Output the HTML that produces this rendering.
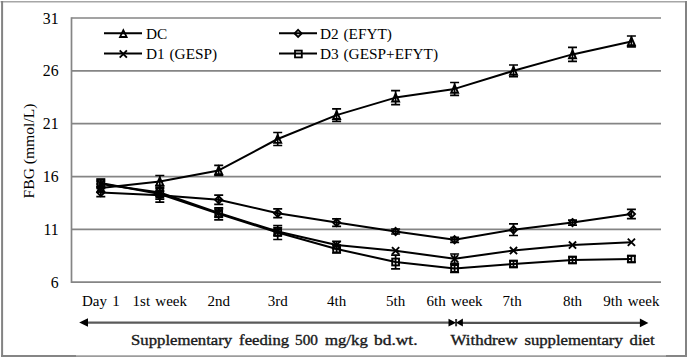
<!DOCTYPE html>
<html><head><meta charset="utf-8"><style>
html,body{margin:0;padding:0;background:#fff;}
body{width:688px;height:358px;overflow:hidden;}
svg{display:block;}
text{font-family:"Liberation Serif",serif;font-size:15px;fill:#000;}
.xl{word-spacing:1.5px;}
.lg{font-size:15.3px;word-spacing:1px;}
.yt{font-size:15.6px;}
.yl{font-size:15.8px;}
.ann{font-family:"Liberation Serif",serif;font-weight:normal;font-size:14px;fill:#1a1a1a;stroke:#1a1a1a;stroke-width:0.35px;}
</style></head><body>
<svg width="688" height="358" viewBox="0 0 688 358">
<rect x="0" y="0" width="688" height="358" fill="#fff"/>
<path d="M0.5 1.8H687" stroke="#a6a6a6" stroke-width="1.5" fill="none"/>
<path d="M2.1 1V356.6M686 1V356.6" stroke="#838383" stroke-width="2" fill="none"/>
<path d="M76 356.2H666" stroke="#9c9c9c" stroke-width="1.7" fill="none"/>
<path d="M1 355.9H76M666 355.9H687" stroke="#858585" stroke-width="2" fill="none"/>
<g stroke="#858585" stroke-width="1.7" fill="none"><path d="M71.5 18.0H661"/><path d="M71.5 70.8H661"/><path d="M71.5 123.7H661"/><path d="M71.5 176.6H661"/><path d="M71.5 229.4H661"/><path d="M71.5 282.2H661"/><path d="M71.5 17.2V283"/></g>
<g><text class="yl" x="58.6" y="23.6" text-anchor="end">31</text><text class="yl" x="58.6" y="76.4" text-anchor="end">26</text><text class="yl" x="58.6" y="129.3" text-anchor="end">21</text><text class="yl" x="58.6" y="182.2" text-anchor="end">16</text><text class="yl" x="58.6" y="235.0" text-anchor="end">11</text><text class="yl" x="58.6" y="287.9" text-anchor="end">6</text></g>
<text class="yt" transform="translate(34 151) rotate(-90)" text-anchor="middle">FBG (mmol/L)</text>
<g><text class="xl" x="100.8" y="306" text-anchor="middle">Day 1</text><text class="xl" x="159.8" y="306" text-anchor="middle">1st week</text><text class="xl" x="218.7" y="306" text-anchor="middle">2nd</text><text class="xl" x="277.7" y="306" text-anchor="middle">3rd</text><text class="xl" x="336.6" y="306" text-anchor="middle">4th</text><text class="xl" x="395.6" y="306" text-anchor="middle">5th</text><text class="xl" x="454.6" y="306" text-anchor="middle">6th week</text><text class="xl" x="512.2" y="306" text-anchor="middle">7th</text><text class="xl" x="572.5" y="306" text-anchor="middle">8th</text><text class="xl" x="631.4" y="306" text-anchor="middle">9th week</text></g>
<g fill="none" stroke="#000" stroke-width="2" stroke-linejoin="round">
<polyline points="100.8,188.0 159.8,181.5 218.7,170.4 277.7,139.0 336.6,115.1 395.6,97.6 454.6,88.9 513.5,70.8 572.5,54.4 631.4,41.4"/>
<polyline points="100.8,192.5 159.8,195.2 218.7,199.8 277.7,213.2 336.6,222.6 395.6,231.5 454.6,239.8 513.5,229.7 572.5,222.6 631.4,214.0"/>
<polyline points="100.8,184.0 159.8,192.5 218.7,213.0 277.7,231.5 336.6,245.0 395.6,250.8 454.6,258.7 513.5,250.6 572.5,245.1 631.4,242.3"/>
<polyline points="100.8,183.0 159.8,194.0 218.7,213.8 277.7,232.5 336.6,249.0 395.6,262.0 454.6,268.5 513.5,264.0 572.5,260.0 631.4,259.0"/>
</g>
<g fill="none" stroke="#000" stroke-width="1.9">
<path d="M100.8 184.1L104.3 191.9L97.3 191.9Z"/><path d="M159.8 177.6L163.3 185.4L156.2 185.4Z"/><path d="M218.7 166.5L222.2 174.3L215.2 174.3Z"/><path d="M277.7 135.1L281.2 142.9L274.2 142.9Z"/><path d="M336.6 111.2L340.1 119.0L333.1 119.0Z"/><path d="M395.6 93.7L399.1 101.5L392.1 101.5Z"/><path d="M454.6 85.0L458.1 92.8L451.1 92.8Z"/><path d="M513.5 66.9L517.0 74.7L510.0 74.7Z"/><path d="M572.5 50.5L576.0 58.3L569.0 58.3Z"/><path d="M631.4 37.5L634.9 45.3L627.9 45.3Z"/><path d="M100.8 188.9L104.4 192.5L100.8 196.1L97.2 192.5Z"/><path d="M159.8 191.6L163.4 195.2L159.8 198.8L156.2 195.2Z"/><path d="M218.7 196.2L222.3 199.8L218.7 203.4L215.1 199.8Z"/><path d="M277.7 209.6L281.3 213.2L277.7 216.8L274.1 213.2Z"/><path d="M336.6 219.0L340.2 222.6L336.6 226.2L333.0 222.6Z"/><path d="M395.6 227.9L399.2 231.5L395.6 235.1L392.0 231.5Z"/><path d="M454.6 236.2L458.2 239.8L454.6 243.4L451.0 239.8Z"/><path d="M513.5 226.1L517.1 229.7L513.5 233.3L509.9 229.7Z"/><path d="M572.5 219.0L576.1 222.6L572.5 226.2L568.9 222.6Z"/><path d="M631.4 210.4L635.0 214.0L631.4 217.6L627.8 214.0Z"/><rect x="97.4" y="179.6" width="6.8" height="6.8"/><rect x="156.4" y="190.6" width="6.8" height="6.8"/><rect x="215.3" y="210.4" width="6.8" height="6.8"/><rect x="274.3" y="229.1" width="6.8" height="6.8"/><rect x="333.2" y="245.6" width="6.8" height="6.8"/><rect x="392.2" y="258.6" width="6.8" height="6.8"/><rect x="451.2" y="265.1" width="6.8" height="6.8"/><rect x="510.1" y="260.6" width="6.8" height="6.8"/><rect x="569.1" y="256.6" width="6.8" height="6.8"/><rect x="628.0" y="255.6" width="6.8" height="6.8"/>
</g>
<g fill="none" stroke="#000" stroke-width="1.9"><path d="M97.2 180.4L104.4 187.6M104.4 180.4L97.2 187.6"/><path d="M156.2 188.9L163.4 196.1M163.4 188.9L156.2 196.1"/><path d="M215.1 209.4L222.3 216.6M222.3 209.4L215.1 216.6"/><path d="M274.1 227.9L281.3 235.1M281.3 227.9L274.1 235.1"/><path d="M333.0 241.4L340.2 248.6M340.2 241.4L333.0 248.6"/><path d="M392.0 247.2L399.2 254.4M399.2 247.2L392.0 254.4"/><path d="M451.0 255.1L458.2 262.3M458.2 255.1L451.0 262.3"/><path d="M509.9 247.0L517.1 254.2M517.1 247.0L509.9 254.2"/><path d="M568.9 241.5L576.1 248.7M576.1 241.5L568.9 248.7"/><path d="M627.8 238.7L635.0 245.9M635.0 238.7L627.8 245.9"/></g>
<g fill="none" stroke="#000" stroke-width="1.7">
<path d="M100.8 184.0V192.0M96.3 184.0H105.3M96.3 192.0H105.3"/><path d="M159.8 175.5V187.5M155.3 175.5H164.3M155.3 187.5H164.3"/><path d="M218.7 165.4V175.4M214.2 165.4H223.2M214.2 175.4H223.2"/><path d="M277.7 132.5V145.5M273.2 132.5H282.2M273.2 145.5H282.2"/><path d="M336.6 108.8V121.4M332.1 108.8H341.1M332.1 121.4H341.1"/><path d="M395.6 90.6V104.6M391.1 90.6H400.1M391.1 104.6H400.1"/><path d="M454.6 82.5V95.3M450.1 82.5H459.1M450.1 95.3H459.1"/><path d="M513.5 65.0V76.6M509.0 65.0H518.0M509.0 76.6H518.0"/><path d="M572.5 47.4V61.4M568.0 47.4H577.0M568.0 61.4H577.0"/><path d="M631.4 36.0V46.8M626.9 36.0H635.9M626.9 46.8H635.9"/><path d="M100.8 188.3V196.7M96.3 188.3H105.3M96.3 196.7H105.3"/><path d="M159.8 191.2V199.2M155.3 191.2H164.3M155.3 199.2H164.3"/><path d="M218.7 195.2V204.4M214.2 195.2H223.2M214.2 204.4H223.2"/><path d="M277.7 208.8V217.6M273.2 208.8H282.2M273.2 217.6H282.2"/><path d="M336.6 218.9V226.3M332.1 218.9H341.1M332.1 226.3H341.1"/><path d="M395.6 229.0V234.0M391.1 229.0H400.1M391.1 234.0H400.1"/><path d="M454.6 237.3V242.3M450.1 237.3H459.1M450.1 242.3H459.1"/><path d="M513.5 223.9V235.5M509.0 223.9H518.0M509.0 235.5H518.0"/><path d="M572.5 220.1V225.1M568.0 220.1H577.0M568.0 225.1H577.0"/><path d="M631.4 209.4V218.6M626.9 209.4H635.9M626.9 218.6H635.9"/><path d="M100.8 181.0V187.0M96.3 181.0H105.3M96.3 187.0H105.3"/><path d="M159.8 188.5V196.5M155.3 188.5H164.3M155.3 196.5H164.3"/><path d="M218.7 209.0V217.0M214.2 209.0H223.2M214.2 217.0H223.2"/><path d="M277.7 227.5V235.5M273.2 227.5H282.2M273.2 235.5H282.2"/><path d="M336.6 241.4V248.6M332.1 241.4H341.1M332.1 248.6H341.1"/><path d="M454.6 254.0V263.4M450.1 254.0H459.1M450.1 263.4H459.1"/><path d="M100.8 179.0V187.0M96.3 179.0H105.3M96.3 187.0H105.3"/><path d="M159.8 185.8V202.2M155.3 185.8H164.3M155.3 202.2H164.3"/><path d="M218.7 207.8V219.8M214.2 207.8H223.2M214.2 219.8H223.2"/><path d="M277.7 225.5V239.5M273.2 225.5H282.2M273.2 239.5H282.2"/><path d="M336.6 245.0V253.0M332.1 245.0H341.1M332.1 253.0H341.1"/><path d="M395.6 255.2V268.8M391.1 255.2H400.1M391.1 268.8H400.1"/><path d="M454.6 264.5V272.5M450.1 264.5H459.1M450.1 272.5H459.1"/><path d="M513.5 261.0V267.0M509.0 261.0H518.0M509.0 267.0H518.0"/><path d="M572.5 257.0V263.0M568.0 257.0H577.0M568.0 263.0H577.0"/><path d="M631.4 256.0V262.0M626.9 256.0H635.9M626.9 262.0H635.9"/>
</g>
<!-- legend -->
<g fill="none" stroke="#000" stroke-width="2">
<path d="M104 33.3H142M104 53.4H142M279 33.3H317M279 53.4H317"/>
</g>
<g fill="none" stroke="#000" stroke-width="1.8">
<path d="M123.3 30.2L126.6 37.0L120.0 37.0Z"/><path d="M298.1 29.8L301.7 33.4L298.1 37.0L294.5 33.4Z"/><rect x="295.0" y="50.6" width="6.8" height="6.8"/>
</g>
<g fill="none" stroke="#000" stroke-width="1.9"><path d="M119.7 50.4L126.9 57.6M126.9 50.4L119.7 57.6"/></g>
<text class="lg" x="146" y="38.5">DC</text>
<text class="lg" x="146" y="58.5">D1 (GESP)</text>
<text class="lg" x="320" y="38.7">D2 (EFYT)</text>
<text class="lg" x="320" y="58.7">D3 (GESP+EFYT)</text>
<!-- arrows -->
<path d="M86 322.7H449" stroke="#5a5a5a" stroke-width="2.2" fill="none"/>
<path d="M462 322.9H641" stroke="#525252" stroke-width="2.2" fill="none"/>
<path d="M456.1 319V326.3" stroke="#333" stroke-width="2" fill="none"/>
<path d="M79.2 322.6L88 318.3V326.8Z" fill="#000"/>
<path d="M456.1 322.7L448.5 318.8V326.6Z" fill="#000"/>
<path d="M456 322.7L462.9 318.5V326.5Z" fill="#000"/>
<path d="M648.4 322.9L639.9 318.5V327.3Z" fill="#000"/>
<text class="ann" x="131.1" y="345" textLength="101.0" lengthAdjust="spacingAndGlyphs">Supplementary</text><text class="ann" x="239.1" y="345" textLength="50.0" lengthAdjust="spacingAndGlyphs">feeding</text><text class="ann" x="295.1" y="345" textLength="22.9" lengthAdjust="spacingAndGlyphs">500</text><text class="ann" x="324.9" y="345" textLength="42.9" lengthAdjust="spacingAndGlyphs">mg/kg</text><text class="ann" x="374.0" y="345" textLength="43.5" lengthAdjust="spacingAndGlyphs">bd.wt.</text><text class="ann" x="450.6" y="345" textLength="66.8" lengthAdjust="spacingAndGlyphs">Withdrew</text><text class="ann" x="524.4" y="345" textLength="98.4" lengthAdjust="spacingAndGlyphs">supplementary</text><text class="ann" x="629.6" y="345" textLength="25.0" lengthAdjust="spacingAndGlyphs">diet</text>
</svg>
</body></html>
